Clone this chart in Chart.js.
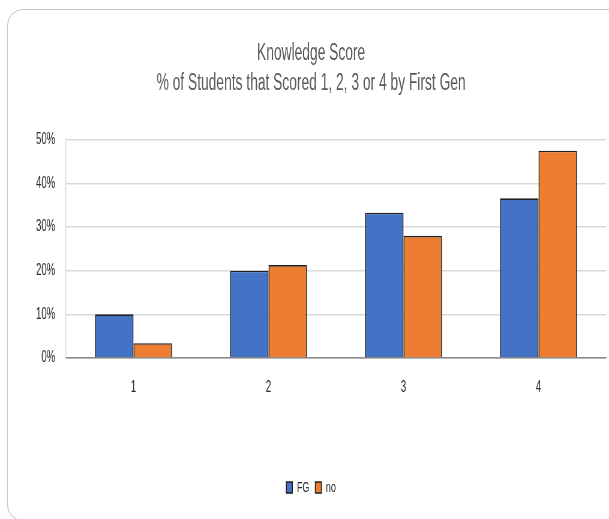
<!DOCTYPE html>
<html>
<head>
<meta charset="utf-8">
<script src="https://cdn.jsdelivr.net/npm/chart.js@4/dist/chart.umd.min.js"></script>
<style>
  html, body { margin: 0; padding: 0; background: #fff; }
  body { width: 609px; height: 519px; position: relative; overflow: hidden; }
  #card {
    position: absolute; left: 7px; top: 9px; width: 640px; height: 512px;
    border: 1px solid #c9c9c9; border-radius: 16px; box-sizing: border-box;
  }
  #myChart { position: absolute; left: 0; top: 0; }
</style>
</head>
<body>
<div id="card"></div>
<canvas id="myChart" style="width:609px;height:519px"></canvas>
<script>
// data
const categorias = ['1', '2', '3', '4'];
const dadosFG = [10.0, 20.0, 33.3, 36.6];
const dadosNo = [3.4, 21.3, 28.0, 47.5];
const rotulosY = ['0%', '10%', '20%', '30%', '40%', '50%'];
const titulo = ['Knowledge Score', '% of Students that Scored 1, 2, 3 or 4 by First Gen'];

// the reference is squeezed sideways, so the chart is drawn wide and shrunk by css
const aperto = 0.6;
const larguraLogica = Math.round(609 / aperto);

const canvas = document.getElementById('myChart');
canvas.width = larguraLogica;
canvas.height = 519;
const ctx = canvas.getContext('2d');

const fonte = "'Liberation Sans', Arial, sans-serif";
const corTexto = '#2b2b2b';

new Chart(ctx, {
    type: 'bar',
    data: {
        labels: categorias,
        datasets: [{
            label: 'FG',
            data: dadosFG,
            backgroundColor: '#4472C4',
            borderColor: '#1f1f1f',
            borderWidth: 1.6
        }, {
            label: 'no',
            data: dadosNo,
            backgroundColor: '#ED7D31',
            borderColor: '#1f1f1f',
            borderWidth: 1.6
        }]
    },
    options: {
        responsive: false,
        animation: false,
        devicePixelRatio: 1,
        barPercentage: 1,
        categoryPercentage: 0.57,
        layout: { padding: { left: 27, right: 5, top: 0, bottom: 14 } },
        plugins: {
            title: {
                display: true,
                text: titulo,
                color: '#595959',
                font: { family: fonte, size: 23, weight: 'normal', lineHeight: 1.3 },
                padding: { top: 39, bottom: 41 }
            },
            legend: {
                position: 'bottom',
                labels: {
                    color: corTexto,
                    font: { family: fonte, size: 15 },
                    boxWidth: 10,
                    boxHeight: 11,
                    padding: 10
                }
            },
            tooltip: { enabled: false }
        },
        scales: {
            x: {
                afterFit: s => { s.height = 112 },
                grid: { display: false, drawTicks: false },
                border: { display: true, color: '#8c8c8c', width: 1.2 },
                ticks: { color: corTexto, font: { family: fonte, size: 16 }, padding: 20 }
            },
            y: {
                min: 0,
                max: 50,
                afterFit: s => { s.width = 83 },
                grid: {
                    drawTicks: false,
                    color: c => c.tick.value === 0 ? '#8c8c8c' : '#d9d9d9',
                    lineWidth: 1.5
                },
                border: { display: true, color: '#d0d0d0', width: 1.2 },
                ticks: {
                    stepSize: 10,
                    padding: 18,
                    color: corTexto,
                    font: { family: fonte, size: 16 },
                    callback: (v) => rotulosY[v / 10]
                }
            }
        }
    }
});
</script>
</body>
</html>
